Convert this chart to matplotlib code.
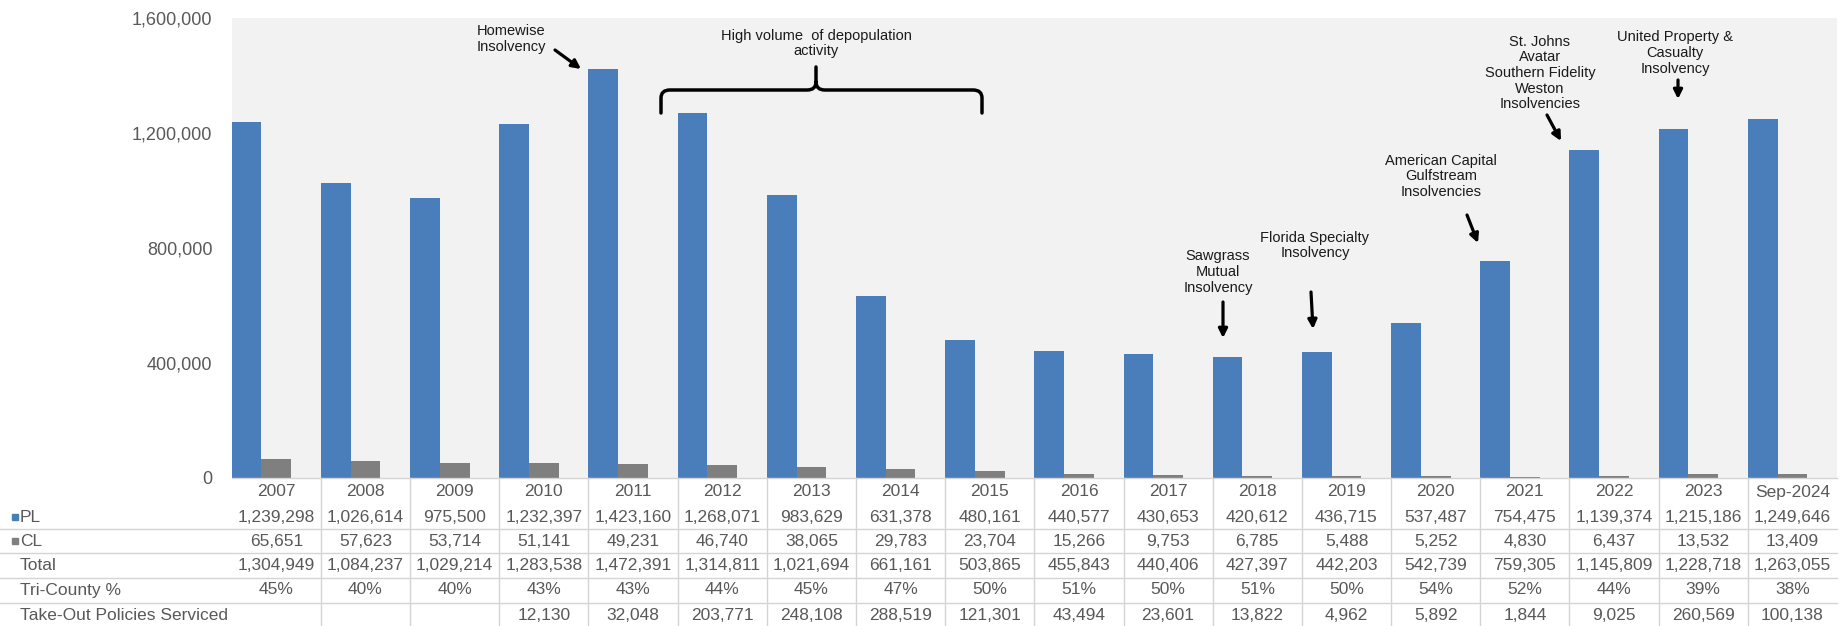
import numpy as np
import matplotlib
matplotlib.use("Agg")
import matplotlib.pyplot as plt
import matplotlib.transforms as mtransforms
from matplotlib.path import Path
from matplotlib.patches import PathPatch, Rectangle
from matplotlib.lines import Line2D

# ---------------- data ----------------
categories = ["2007", "2008", "2009", "2010", "2011", "2012", "2013", "2014", "2015",
              "2016", "2017", "2018", "2019", "2020", "2021", "2022", "2023", "Sep-2024"]
pl_values = [1239298, 1026614, 975500, 1232397, 1423160, 1268071, 983629, 631378, 480161,
             440577, 430653, 420612, 436715, 537487, 754475, 1139374, 1215186, 1249646]
cl_values = [65651, 57623, 53714, 51141, 49231, 46740, 38065, 29783, 23704,
             15266, 9753, 6785, 5488, 5252, 4830, 6437, 13532, 13409]
total_values = [1304949, 1084237, 1029214, 1283538, 1472391, 1314811, 1021694, 661161, 503865,
                455843, 440406, 427397, 442203, 542739, 759305, 1145809, 1228718, 1263055]
tri_county_pct = [45, 40, 40, 43, 43, 44, 45, 47, 50, 51, 50, 51, 50, 54, 52, 44, 39, 38]
takeout_values = [None, None, None, 12130, 32048, 203771, 248108, 288519, 121301,
                  43494, 23601, 13822, 4962, 5892, 1844, 9025, 260569, 100138]
y_ticks = [0, 400000, 800000, 1200000, 1600000]

BLUE = "#4a7ebb"
GRAY = "#7f7f7f"
TXT = "#595959"
LINE = "#d4d4d4"

plt.rcParams["font.family"] = ["Liberation Sans", "DejaVu Sans"]

W, H = 1843, 626
fig = plt.figure(figsize=(W / 100, H / 100), dpi=100)
fig.patch.set_facecolor("white")

x_left, x_right, y_top, y_zero = 231.7, 1837.0, 18.0, 478.0
ax = fig.add_axes([x_left / W, 1 - y_zero / H, (x_right - x_left) / W, (y_zero - y_top) / H])
ax.set_facecolor("#f2f2f2")

x = np.arange(len(categories))
ax.bar(x - 0.5, pl_values, width=1 / 3, align="edge", color=BLUE, zorder=2)
ax.bar(x - 0.5 + 1 / 3, cl_values, width=1 / 3, align="edge", color=GRAY, zorder=2)

ax.set_xlim(-0.5, len(categories) - 0.5)
ax.set_ylim(0, 1600000)
ax.set_xticks([])
ax.set_yticks(y_ticks)
ax.set_yticklabels([f"{v:,}" for v in y_ticks], color=TXT, fontsize=13)
ax.tick_params(axis="y", length=0, pad=14)
for s in ["top", "right", "left"]:
    ax.spines[s].set_visible(False)
ax.spines["bottom"].set_color(LINE)
ax.spines["bottom"].set_linewidth(1.0)

# ---------------- data table ----------------
def fy(py):
    return 1 - py / H

trans = mtransforms.blended_transform_factory(ax.transData, fig.transFigure)
row_y = {"cat": 492, "PL": 517, "CL": 541, "Total": 566, "Tri": 590, "Take": 616}
fs_tab = 12.5

for i, c in enumerate(categories):
    ax.text(i, fy(row_y["cat"]), c, transform=trans, ha="center", va="center",
            fontsize=fs_tab, color=TXT, clip_on=False)
    ax.text(i, fy(row_y["PL"]), f"{pl_values[i]:,}", transform=trans, ha="center",
            va="center", fontsize=fs_tab, color=TXT, clip_on=False)
    ax.text(i, fy(row_y["CL"]), f"{cl_values[i]:,}", transform=trans, ha="center",
            va="center", fontsize=fs_tab, color=TXT, clip_on=False)
    ax.text(i, fy(row_y["Total"]), f"{total_values[i]:,}", transform=trans, ha="center",
            va="center", fontsize=fs_tab, color=TXT, clip_on=False)
    ax.text(i, fy(row_y["Tri"]), f"{tri_county_pct[i]}%", transform=trans, ha="center",
            va="center", fontsize=fs_tab, color=TXT, clip_on=False)
    if takeout_values[i] is not None:
        ax.text(i, fy(row_y["Take"]), f"{takeout_values[i]:,}", transform=trans,
                ha="center", va="center", fontsize=fs_tab, color=TXT, clip_on=False)

# row headers
labels = [("PL", row_y["PL"], BLUE), ("CL", row_y["CL"], GRAY),
          ("Total", row_y["Total"], None), ("Tri-County %", row_y["Tri"], None),
          ("Take-Out Policies Serviced", row_y["Take"], None)]
for text, py, col in labels:
    fig.text(20 / W, fy(py), text, ha="left", va="center", fontsize=fs_tab, color=TXT)
    if col is not None:
        fig.patches.append(Rectangle((12 / W, fy(py) - 3 / H), 6 / W, 6 / H,
                                     transform=fig.transFigure, color=col))

# horizontal table lines
for py in [529, 553, 578, 603]:
    fig.add_artist(Line2D([0, x_right / W], [fy(py), fy(py)], transform=fig.transFigure,
                          color=LINE, lw=1.0))
# vertical table lines
for k in range(1, len(categories)):
    fig.add_artist(Line2D([k - 0.5, k - 0.5], [fy(y_zero), 0], transform=trans,
                          color=LINE, lw=1.0))

# ---------------- annotations ----------------
ANN = "#1a1a1a"
fs_ann = 10.5
arrow_kw = dict(arrowstyle="-|>", lw=2.3, color="black", mutation_scale=13,
                shrinkA=0, shrinkB=0)

def xd(px):
    return (px - x_left) / ((x_right - x_left) / len(categories)) - 0.5

def yd(py):
    return (y_zero - py) / (y_zero - y_top) * 1600000

def note(text, px, py, ha="center"):
    ax.text(xd(px), yd(py), text, ha=ha, va="center", fontsize=fs_ann, color=ANN,
            linespacing=1.15, clip_on=False, zorder=5)

def arrow(p0, p1):
    ax.annotate("", xy=(xd(p1[0]), yd(p1[1])), xytext=(xd(p0[0]), yd(p0[1])),
                arrowprops=arrow_kw, zorder=5)

note("Homewise\nInsolvency", 477, 39, ha="left")
arrow((555, 50), (581, 69))

note("High volume  of depopulation\nactivity", 816, 43.5)

# curly bracket
L, R, P = xd(661), xd(982), xd(816)
yh, ye, yp = yd(90), yd(113), yd(67)
rx = 0.1
ry = yd(82) - yh
verts = [(L, ye), (L, yh - ry), (L, yh), (L + rx, yh), (P - rx, yh), (P, yh), (P, yh + ry),
         (P, yp),
         (P, yh + ry), (P, yh), (P + rx, yh), (R - rx, yh), (R, yh), (R, yh - ry), (R, ye)]
codes = [Path.MOVETO, Path.LINETO, Path.CURVE3, Path.CURVE3, Path.LINETO, Path.CURVE3,
         Path.CURVE3, Path.LINETO,
         Path.MOVETO, Path.CURVE3, Path.CURVE3, Path.LINETO, Path.CURVE3, Path.CURVE3,
         Path.LINETO]
ax.add_patch(PathPatch(Path(verts, codes), fill=False, lw=2.5, color="black",
                       capstyle="round", joinstyle="round", zorder=5, clip_on=False))

note("Sawgrass\nMutual\nInsolvency", 1218, 272)
arrow((1223, 302), (1223, 338))

note("Florida Specialty\nInsolvency", 1315, 245.5)
arrow((1311, 292), (1313, 329))

note("American Capital\nGulfstream\nInsolvencies", 1441, 176.5)
arrow((1467, 215), (1478, 243))

note("St. Johns\nAvatar\nSouthern Fidelity\nWeston\nInsolvencies", 1540, 73)
arrow((1547, 115), (1561, 141))

note("United Property &\nCasualty\nInsolvency", 1675, 53)
arrow((1678, 80), (1678, 99))

fig.savefig("out.png", dpi=100)
